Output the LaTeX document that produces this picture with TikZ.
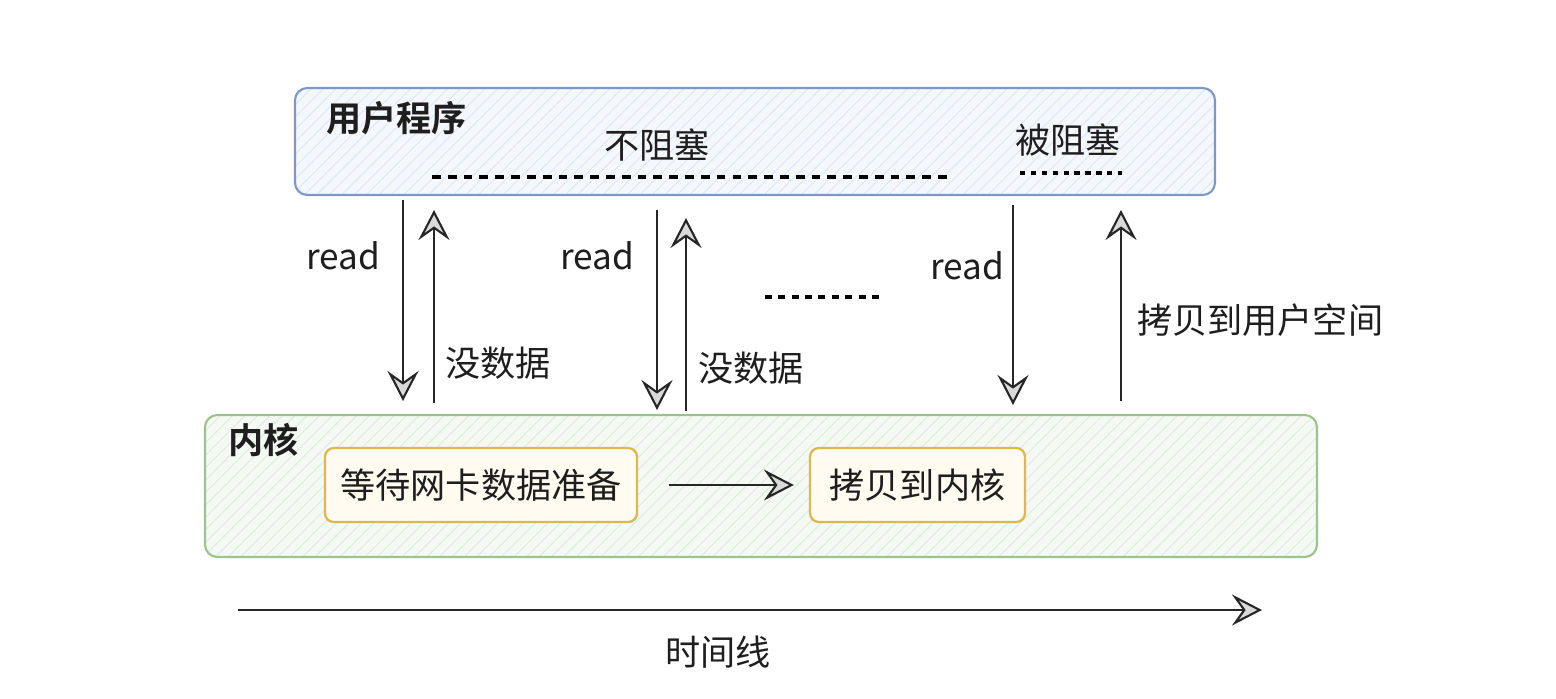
\documentclass[tikz,border=0pt]{standalone}
\usepackage{fontspec}
\setmainfont{Noto Sans CJK SC}[BoldFont={Noto Sans CJK SC Bold}]
\usetikzlibrary{arrows.meta, positioning, patterns.meta}

\definecolor{userdraw}{HTML}{7C98C6}
\definecolor{userfill}{HTML}{F4F7FC}
\definecolor{userhatch}{HTML}{DCE6F5}
\definecolor{kerndraw}{HTML}{9CC48A}
\definecolor{kernfill}{HTML}{F4F9F3}
\definecolor{kernhatch}{HTML}{DCEBD9}
\definecolor{stepdraw}{HTML}{DDB84E}
\definecolor{stepfill}{HTML}{FFFBF0}
\definecolor{inktext}{HTML}{1E1E1E}

\begin{document}
\begin{tikzpicture}[
    font=\fontsize{20}{24}\selectfont,
    text=inktext,
    area/.style={draw, rounded corners=7pt, line width=1.2pt},
    userbox/.style={area, draw=userdraw, preaction={fill=userfill},
        pattern={Lines[angle=45, distance=5pt, line width=0.5pt]}, pattern color=userhatch,
        minimum width=18.4cm, minimum height=2.14cm},
    kernbox/.style={area, draw=kerndraw, preaction={fill=kernfill},
        pattern={Lines[angle=45, distance=5pt, line width=0.5pt]}, pattern color=kernhatch,
        minimum width=22.24cm, minimum height=2.84cm},
    stepbox/.style={draw=stepdraw, line width=1.3pt, rounded corners=5pt, fill=stepfill,
        minimum height=1.48cm},
    title/.style={font=\fontsize{20}{24}\selectfont\bfseries, anchor=west},
    arr/.style={-{Stealth[length=6mm, width=6.2mm, inset=2.2mm, fill=gray!30]}, line width=1.2pt, black!85},
    wait/.style={line width=1.8pt, dash pattern=on 5pt off 4pt},
]
\useasboundingbox (0,0) rectangle (31.12,-13.96);

% ============ the two layers ============
\node[userbox] (user) at (15.1, -2.83) {};
\node[title] (user_lab) at (6.40, -2.36) {用户程序};
\node (nb_lab) at (13.14, -2.9) {不阻塞};
\node (bl_lab) at (21.36, -2.8) {被阻塞};
\draw[wait] (8.64, -3.54) -- (19.04, -3.54);
\draw[wait, dash pattern=on 3pt off 3.2pt] (20.4, -3.46) -- (22.44, -3.46);

\node[kernbox] (kern) at (15.22, -9.72) {};
\node[title] (kern_lab) at (4.44, -8.8) {内核};
\node[stepbox, minimum width=6.24cm] (waitnic) at (9.62, -9.7) {等待网卡数据准备};
\node[stepbox, minimum width=4.3cm] (copyk) at (18.35, -9.7) {拷贝到内核};
\draw[arr, shorten <=0.62cm, shorten >=0.3cm] (waitnic.east) -- (copyk.west);

% ============ read calls ============
\coordinate (r1a) at (8.06, -4.0);   \coordinate (r1b) at (8.06, -8.02);
\coordinate (n1a) at (8.68, -8.06);  \coordinate (n1b) at (8.68, -4.2);
\coordinate (r2a) at (13.14, -4.2);  \coordinate (r2b) at (13.14, -8.2);
\coordinate (n2a) at (13.72, -8.22); \coordinate (n2b) at (13.72, -4.36);
\coordinate (r3a) at (20.26, -4.1);  \coordinate (r3b) at (20.26, -8.1);
\coordinate (c3a) at (22.42, -8.02); \coordinate (c3b) at (22.42, -4.2);

\draw[arr] (r1a) -- (r1b);
\draw[arr] (n1a) -- (n1b);
\draw[arr] (r2a) -- (r2b);
\draw[arr] (n2a) -- (n2b);
\draw[arr] (r3a) -- (r3b);
\draw[arr] (c3a) -- (c3b);

\node (read1) at (6.86, -5.12) {read};
\node (read2) at (11.94, -5.12) {read};
\node (read3) at (19.34, -5.32) {read};
\node (nodata1) at (9.96, -7.26) {没数据};
\node (nodata2) at (15.02, -7.36) {没数据};
\node[anchor=west] (copyu) at (22.62, -6.4) {拷贝到用户空间};
\draw[wait, dash pattern=on 4pt off 3.6pt] (15.3, -5.94) -- (17.64, -5.94);

% ============ time line ============
\coordinate (t0) at (4.76, -12.2);
\coordinate (t1) at (25.24, -12.2);
\draw[arr] (t0) -- (t1);
\node (time_lab) at (14.36, -13.04) {时间线};

\end{tikzpicture}
\end{document}
